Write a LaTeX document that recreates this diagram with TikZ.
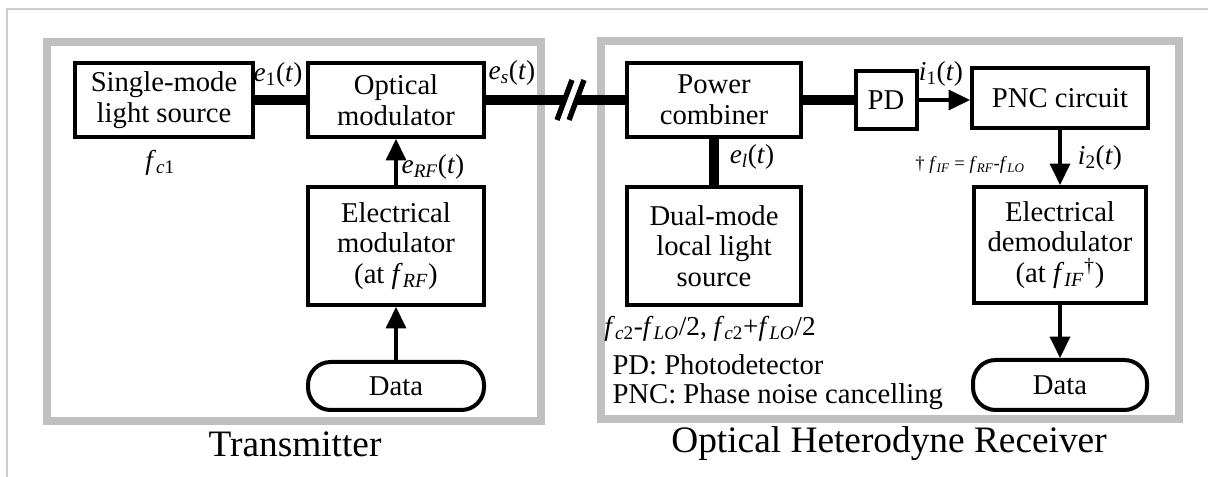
\documentclass[tikz,border=0pt]{standalone}
\usepackage{fontspec}
\setmainfont{Liberation Serif}
\usetikzlibrary{arrows.meta}

\definecolor{framegray}{RGB}{192,192,192}
\definecolor{edgegray}{RGB}{205,205,205}

% signal and frequency symbols
\newcommand{\sgl}[2]{\textit{#1}\textsubscript{#2}(\textit{t})}
\newcommand{\frq}[1]{\textit{f}\textsubscript{\textit{#1}}}

\tikzset{every picture/.style={line width=0.75pt}}
\tikzset{
  blockbox/.style={draw, line width=3pt, align=center, inner sep=2pt, font=\fontsize{21.5}{23}\selectfont},
  databox/.style={draw, line width=3pt, rounded corners=17pt, inner sep=2pt, font=\fontsize{21.5}{23}\selectfont},
  optic/.style={line width=7pt},
  sigarrow/.style={line width=2.6pt, -{Triangle[length=16pt,width=15pt]}},
  sigtext/.style={inner sep=0pt, font=\fontsize{20.5}{22}\selectfont},
  legendtext/.style={inner sep=0pt, anchor=west, font=\fontsize{21.5}{23}\selectfont},
  notetext/.style={inner sep=0pt, font=\fontsize{14}{16}\selectfont},
  unitframe/.style={draw=framegray, line width=6pt},
  unittitle/.style={inner sep=0pt, font=\fontsize{28}{31}\selectfont},
}

\begin{document}
\begin{tikzpicture}[x=0.75pt,y=0.75pt,yscale=-1,xscale=1]
	\useasboundingbox (0,0) rectangle (1208,477);

	%Straight Lines [outer edge]
	\draw [edgegray, line width=1.5pt] (7,477) -- (7,9) -- (1208,9) ;
	%Shape: Rectangle [transmitter]
	\draw [unitframe] (47,42) rectangle (541,421) ;
	%Shape: Rectangle [receiver]
	\draw [unitframe] (601,41) rectangle (1179,419) ;

	% Transmitter blocks
	\node [blockbox, minimum width=133.5pt, minimum height=55.5pt] (srcbox) at (164,100) {Single-mode\\light source};
	\node [blockbox, minimum width=132pt, minimum height=55.5pt] (optmod) at (396,100) {Optical\\modulator};
	\node [blockbox, minimum width=132pt, minimum height=88.5pt] (elecmod) at (396,246) {Electrical\\modulator\\(at \frq{RF})};
	\node [databox, minimum width=132pt, minimum height=36pt] (txdata) at (396,386) {Data};

	% Receiver blocks
	\node [blockbox, minimum width=130.5pt, minimum height=55pt] (combiner) at (714,100) {Power\\combiner};
	\node [blockbox, minimum width=45.75pt, minimum height=43.5pt] (pdbox) at (886,100) {PD};
	\node [blockbox, minimum width=132pt, minimum height=45pt] (pncbox) at (1060,98) {PNC circuit};
	\node [blockbox, minimum width=130.5pt, minimum height=88.5pt] (localsrc) at (714,246) {Dual-mode\\local light\\source};
	\node [blockbox, minimum width=129pt, minimum height=87pt] (elecdemod) at (1060,245) {Electrical\\demodulator\\(at \frq{IF}\textsuperscript{\dag})};
	\node [databox, minimum width=130.5pt, minimum height=37.5pt] (rxdata) at (1060,385) {Data};

	%Straight Lines [fibre with break]
	\coordinate (brkA) at (564,100);
	\coordinate (brkB) at (577,100);
	\draw [optic] (srcbox) -- (optmod) ;
	\draw [optic] (optmod.east) -- (brkA) ;
	\draw [optic] (brkB) -- (combiner.west) ;
	\draw [line width=4pt] (557,120) -- (572,80) ;
	\draw [line width=4pt] (569,120) -- (584,80) ;
	\draw [optic] (combiner) -- (pdbox) ;
	\draw [optic] (combiner) -- (localsrc) ;

	%Straight Lines [electrical signals]
	\draw [sigarrow] (txdata) -- (elecmod) ;
	\draw [sigarrow] (elecmod) -- (optmod) ;
	\draw [sigarrow] (pdbox.east) -- (pdbox.east -| pncbox.west) ;
	\draw [sigarrow] (pncbox) -- (elecdemod) ;
	\draw [sigarrow] (elecdemod) -- (rxdata) ;

	% Text Node
	\node [sigtext] (fcone) at (160,163) {\textit{f}\textsubscript{\textit{c}1}};
	% Text Node
	\node [sigtext] (eone) at (278,75) {\sgl{e}{1}};
	% Text Node
	\node [sigtext] (esig) at (512,73) {\sgl{e}{\textit{s}}};
	% Text Node
	\node [sigtext] (erf) at (433,167) {\sgl{e}{\textit{RF}}};
	% Text Node
	\node [sigtext] (elo) at (752,157) {\sgl{e}{\textit{l}}};
	% Text Node
	\node [sigtext] (ione) at (941,74) {\sgl{i}{1}};
	% Text Node
	\node [sigtext] (itwo) at (1100,158) {\sgl{i}{2}};
	% Text Node
	\node [notetext] (ifnote) at (970,165) {\dag\ \frq{IF} = \frq{RF}-\frq{LO}};
	% Text Node
	\node [sigtext] (lofreq) at (710,329) {\textit{f}\textsubscript{\textit{c}2}-\frq{LO}/2, \textit{f}\textsubscript{\textit{c}2}+\frq{LO}/2};
	% Text Node
	\node [legendtext] (pdnote) at (612,365) {PD: Photodetector};
	% Text Node
	\node [legendtext] (pncnote) at (612,397) {PNC: Phase noise cancelling};
	% Text Node
	\node [unittitle] (txtitle) at (295,444) {Transmitter};
	% Text Node
	\node [unittitle] (rxtitle) at (889,444) {Optical Heterodyne Receiver};

\end{tikzpicture}
\end{document}
